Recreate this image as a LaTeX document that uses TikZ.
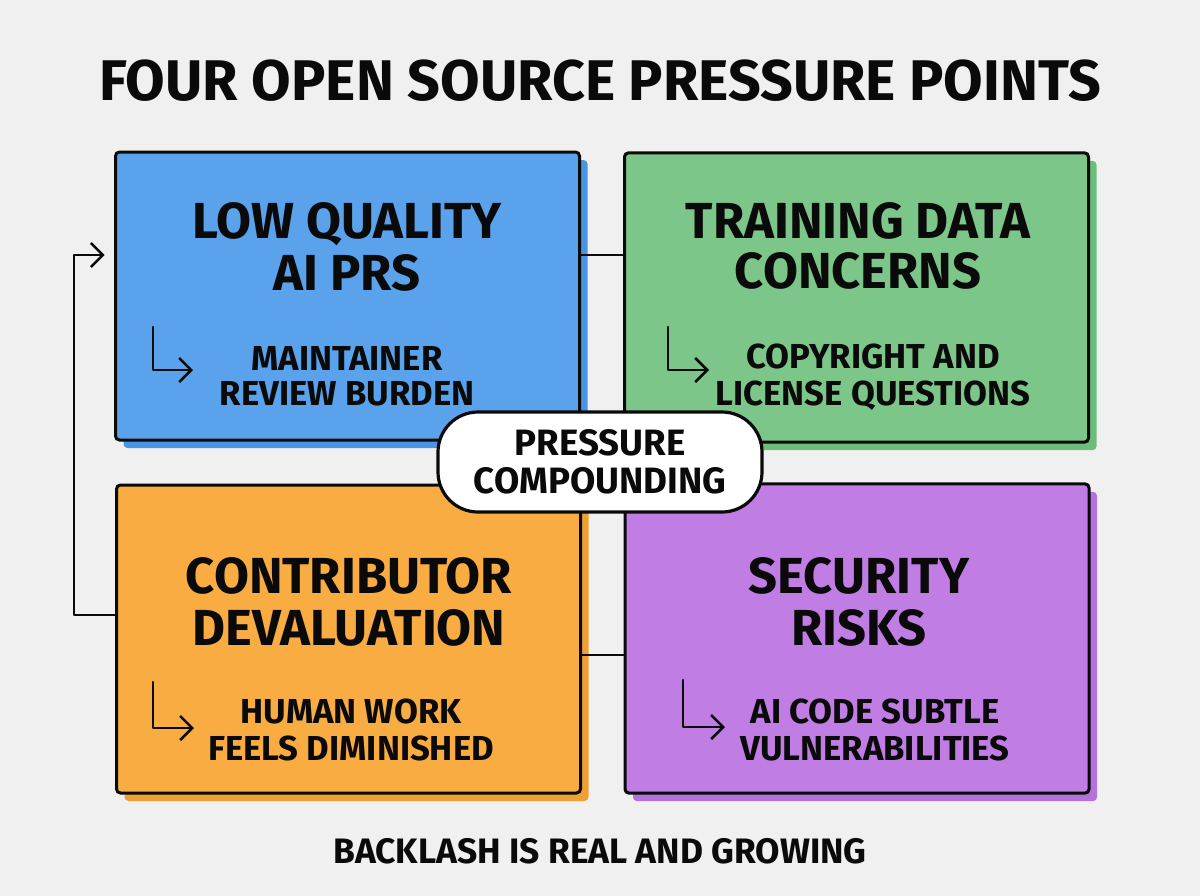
\documentclass[tikz,border=0pt]{standalone}
\usepackage{fontspec}
\setmainfont{Fira Sans}
\usetikzlibrary{arrows.meta,shadows}
\definecolor{bg}{RGB}{240,240,240}
\definecolor{cblue}{RGB}{90,163,236}
\definecolor{cblueS}{RGB}{74,148,230}
\definecolor{cgreen}{RGB}{124,198,138}
\definecolor{cgreenS}{RGB}{108,188,122}
\definecolor{corange}{RGB}{248,172,66}
\definecolor{corangeS}{RGB}{240,160,50}
\definecolor{cpurple}{RGB}{192,125,228}
\definecolor{cpurpleS}{RGB}{180,114,222}
\definecolor{ink}{RGB}{10,10,10}
\tikzset{
  box/.style={draw=ink, line width=2.25pt, rounded corners=3pt, minimum width=348pt, minimum height=#1, inner sep=0pt},
  shade/.style={drop shadow={shadow xshift=6pt, shadow yshift=-6pt, fill=#1, opacity=1}},
  bigtitle/.style={font=\fontsize{43}{50}\selectfont\bfseries, text=ink, inner sep=0pt, anchor=base},
  boxtitle/.style={font=\fontsize{38}{44}\selectfont\bfseries, text=ink, inner sep=0pt, anchor=base},
  subtext/.style={font=\fontsize{26}{30}\selectfont\bfseries, text=ink, inner sep=0pt, anchor=base},
  pilltext/.style={font=\fontsize{27.5}{30}\selectfont\bfseries, text=ink, inner sep=0pt, anchor=base},
  foottext/.style={font=\fontsize{26.5}{30}\selectfont\bfseries, text=ink, inner sep=0pt, anchor=base},
  pillbox/.style={draw=ink, fill=white, line width=2.4pt, rounded corners=30pt, minimum width=243pt, minimum height=75pt, inner sep=0pt},
  link/.style={draw=ink, line width=2.2pt},
  loop/.style={draw=ink, line width=1.9pt, line cap=round, line join=round},
  barb/.style={-{Straight Barb[length=9pt,width=18pt,line width=1.9pt]}},
  hook/.style={draw=ink, line width=1.9pt, line cap=round, line join=round, barb},
}
\begin{document}
\begin{tikzpicture}[x=0.75pt,y=-0.75pt]
\fill[bg] (0,0) rectangle (1200,896);
\useasboundingbox (0,0) rectangle (1200,896);

% title
\node[bigtitle] (title) at (600,100) {FOUR OPEN SOURCE PRESSURE POINTS};

% boxes
\node[box=216pt, fill=cblue, shade=cblueS] (b1) at (347.5,296) {};
\node[box=217pt, fill=cgreen, shade=cgreenS] (b2) at (856.5,297.5) {};
\node[box=231pt, fill=corange, shade=corangeS] (b3) at (348.5,639) {};
\node[box=232pt, fill=cpurple, shade=cpurpleS] (b4) at (857,638.5) {};

% helper coordinates
\coordinate (ytop) at (0,255);
\coordinate (ybot) at (0,655);
\coordinate (yloop) at (0,615);
\coordinate (xloop) at (74,0);

% connectors between boxes
\draw[link] (b1.east |- ytop) -- (b2.west |- ytop);
\draw[link] (b3.east |- ybot) -- (b4.west |- ybot);

% loop arrow on left
\draw[loop, shorten >=7pt, barb]
  (b3.west |- yloop) -- (xloop |- yloop) -- (xloop |- ytop) -- (b1.west |- ytop);

% box texts
\node[boxtitle] (t1a) at (347,238) {LOW QUALITY};
\node[boxtitle] (t1b) at (347,290) {AI PRS};
\node[subtext] (s1a) at (347,370) {MAINTAINER};
\node[subtext] (s1b) at (347,405) {REVIEW BURDEN};

\node[boxtitle] (t2a) at (858,238) {TRAINING DATA};
\node[boxtitle] (t2b) at (858,288) {CONCERNS};
\node[subtext] (s2a) at (873,368) {COPYRIGHT AND};
\node[subtext] (s2b) at (873,405) {LICENSE QUESTIONS};

\node[boxtitle] (t3a) at (349,593) {CONTRIBUTOR};
\node[boxtitle] (t3b) at (349,645) {DEVALUATION};
\node[subtext] (s3a) at (351,723) {HUMAN WORK};
\node[subtext] (s3b) at (351,760) {FEELS DIMINISHED};

\node[boxtitle] (t4a) at (859,593) {SECURITY};
\node[boxtitle] (t4b) at (859,645) {RISKS};
\node[subtext] (s4a) at (875,723) {AI CODE SUBTLE};
\node[subtext] (s4b) at (875,760) {VULNERABILITIES};

% hook arrows
\coordinate (h1a) at (153,327); \coordinate (h1b) at (153,370); \coordinate (h1c) at (193,370);
\coordinate (h2a) at (668,327); \coordinate (h2b) at (668,370); \coordinate (h2c) at (709,370);
\coordinate (h3a) at (153,682); \coordinate (h3b) at (153,728); \coordinate (h3c) at (194,728);
\coordinate (h4a) at (683,680); \coordinate (h4b) at (683,727); \coordinate (h4c) at (725,727);
\draw[hook] (h1a) -- (h1b) -- (h1c);
\draw[hook] (h2a) -- (h2b) -- (h2c);
\draw[hook] (h3a) -- (h3b) -- (h3c);
\draw[hook] (h4a) -- (h4b) -- (h4c);

% center pill
\node[pillbox] (pill) at (600,462) {};
\node[pilltext] (p1) at (600,455) {PRESSURE};
\node[pilltext] (p2) at (600,493) {COMPOUNDING};

% bottom line
\node[foottext] (foot) at (600,863) {BACKLASH IS REAL AND GROWING};
\end{tikzpicture}
\end{document}
